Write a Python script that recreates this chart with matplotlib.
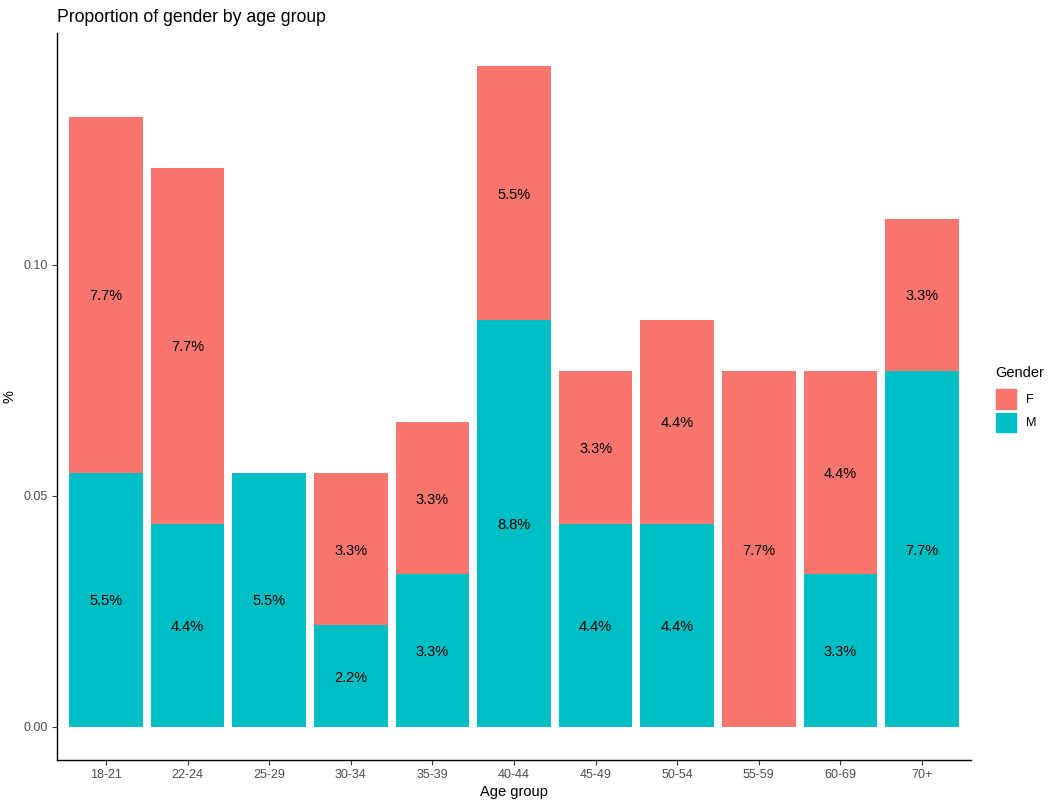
import matplotlib.pyplot as plt
from matplotlib.patches import Patch
import numpy as np

plt.rcParams['font.family'] = ['Liberation Sans', 'DejaVu Sans']

age_groups = ['18-21', '22-24', '25-29', '30-34', '35-39', '40-44',
              '45-49', '50-54', '55-59', '60-69', '70+']
male = [0.055, 0.044, 0.055, 0.022, 0.033, 0.088, 0.044, 0.044, 0.0, 0.033, 0.077]
female = [0.077, 0.077, 0.0, 0.033, 0.033, 0.055, 0.033, 0.044, 0.077, 0.044, 0.033]

col_f = '#F8766D'
col_m = '#00BFC4'

fig = plt.figure(figsize=(10.57, 8.06), dpi=100)
ax = fig.add_axes([57/1057, 46/806, 914/1057, 727/806])

x = np.arange(len(age_groups))
male = np.array(male)
female = np.array(female)
ax.bar(x, male, width=0.9, color=col_m)
ax.bar(x, female, width=0.9, bottom=male, color=col_f)

# percentage labels in the middle of each piece
for i in range(len(x)):
    if male[i] > 0:
        ax.text(x[i], male[i] / 2, f"{male[i]*100:.1f}%", ha='center',
                va='center_baseline', fontsize=10.5, color='black')
    if female[i] > 0:
        ax.text(x[i], male[i] + female[i] / 2, f"{female[i]*100:.1f}%", ha='center',
                va='center_baseline', fontsize=10.5, color='black')

top = (male + female).max()
ax.set_ylim(-top * 0.05, top * 1.05)
ax.set_xlim(-0.6, len(x) - 0.4)
ax.set_xticks(x)
ax.set_xticklabels(age_groups)
ax.set_yticks([0.0, 0.05, 0.10])
ax.set_yticklabels(['0.00', '0.05', '0.10'])

for s in ['top', 'right']:
    ax.spines[s].set_visible(False)
for s in ['left', 'bottom']:
    ax.spines[s].set_color('black')
    ax.spines[s].set_linewidth(1.0)
ax.tick_params(axis='both', colors='#333333', labelcolor='#4D4D4D', labelsize=9,
               length=3.5, width=0.8, pad=3)

ax.set_xlabel('Age group', fontsize=10.5, labelpad=3)
ax.set_ylabel('%', fontsize=10.5, labelpad=5)
fig.text(57/1057, 1 - 17/806, 'Proportion of gender by age group', fontsize=12.7,
         ha='left', va='center')

handles = [Patch(color=col_f), Patch(color=col_m)]
leg = ax.legend(handles, ['F', 'M'], title='Gender', loc='upper left',
                bbox_to_anchor=(987/1057, 1 - 357/806), bbox_transform=fig.transFigure,
                frameon=False, fontsize=9, title_fontsize=10.5, handlelength=1.65,
                handleheight=2.0, labelspacing=0.3, handletextpad=0.75,
                alignment='left', borderpad=0.2)
leg._legend_box.sep = 7

fig.savefig('out.png', dpi=100)
